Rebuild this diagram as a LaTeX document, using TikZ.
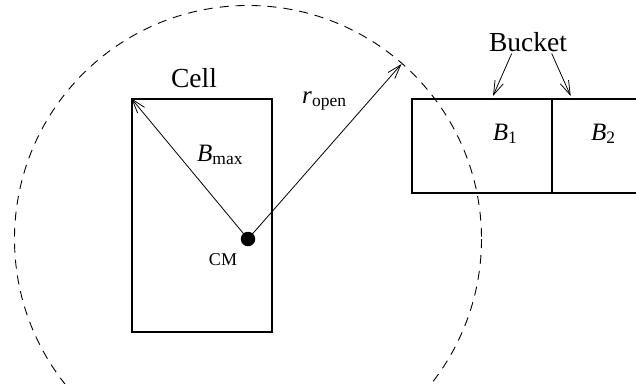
\documentclass[tikz,border=0pt]{standalone}
\usepackage{fontspec}
\setmainfont{Liberation Serif}
\usetikzlibrary{arrows.meta}
\newcommand\lowsub[1]{\raisebox{-3pt}{\fontsize{17.5}{20}\selectfont #1}}
\tikzset{
  boxstyle/.style={draw, line width=1.8pt, rectangle, inner sep=0pt},
  arr/.style={line width=0.8pt, -{Straight Barb[length=14pt,width=9pt,line width=0.8pt]}},
  dashcirc/.style={line width=0.9pt, dash pattern=on 9pt off 7pt},
  lbl/.style={inner sep=0pt, font=\fontsize{25}{30}\selectfont},
  biglbl/.style={inner sep=0pt, font=\fontsize{27.5}{32}\selectfont},
  small/.style={inner sep=0pt, font=\fontsize{18}{21}\selectfont},
}
\begin{document}
\begin{tikzpicture}[x=1pt,y=-1pt]
\useasboundingbox (0,0) rectangle (636,383);
\clip (0,0) rectangle (636,383);
\fill[white] (0,0) rectangle (636,383);
% cell
\node[boxstyle, minimum width=139.5pt, minimum height=232.7pt] (cell) at (202,215.7) {};
\node[boxstyle, minimum width=140pt, minimum height=93.3pt] (b1) at (481.7,146) {};
\node[boxstyle, minimum width=140pt, minimum height=93.3pt] (b2) at (621.7,146) {};
% centre of mass
\node[circle, fill=black, minimum size=14.5pt, inner sep=0pt] (cm) at (248,239) {};
% open radius circle
\draw[dashcirc] (cm.center) circle[radius=233.5];
% arrows
\coordinate (ropen) at (401.5,64);
\draw[arr] (cm.center) -- (cell.north west);
\draw[arr] (cm.center) -- (ropen);
% labels
\node[biglbl, anchor=base] (celllbl) at (194,87) {Cell};
\node[biglbl, anchor=base] (bucket) at (528,51) {Bucket};
\node[lbl, anchor=base west] (bmax) at (197,161.7) {\textit{B}\lowsub{max}};
\node[lbl, anchor=base west] (rop) at (302,103.3) {\textit{r}\lowsub{open}};
\node[small, anchor=base] (cmlbl) at (223,265) {CM};
\node[lbl, anchor=base west] (b1lbl) at (492.7,140) {\textit{B}\lowsub{1}};
\node[lbl, anchor=base west] (b2lbl) at (591,140) {\textit{B}\lowsub{2}};
% bucket arrows
\coordinate (bk1) at (511.7,53.5);
\coordinate (bk2) at (551.7,53.5);
\coordinate (t1) at (493,96);
\coordinate (t2) at (570.7,96);
\draw[arr] (bk1) -- (t1);
\draw[arr] (bk2) -- (t2);
\end{tikzpicture}
\end{document}
